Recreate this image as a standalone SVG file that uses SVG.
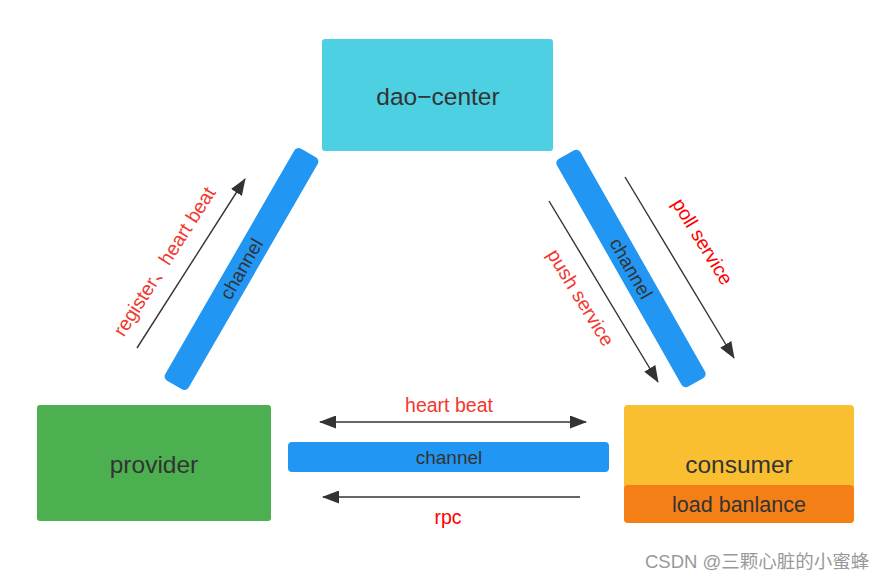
<svg xmlns="http://www.w3.org/2000/svg" width="891" height="582" viewBox="0 0 891 582">
<style>
.lbl{font-family:"Liberation Sans","Noto Sans CJK SC",sans-serif;fill:#333;text-anchor:middle}
.red{font-family:"Liberation Sans","Noto Sans CJK SC",sans-serif;fill:#F2382F;text-anchor:middle;font-size:19.5px}
.ch{fill:#2196F3}
.arr{stroke:#333;stroke-width:1.4;fill:none}
</style>
<defs>
<marker id="ah" viewBox="0 0 17 13" refX="16" refY="6.5" markerWidth="17" markerHeight="13" markerUnits="userSpaceOnUse" orient="auto-start-reverse">
<path d="M0,0 L17,6.5 L0,13 Z" fill="#333"/>
</marker>
</defs>
<rect width="891" height="582" fill="#fff"/>
<g id="dao-center">
<rect x="322" y="39" width="231" height="112" rx="3" fill="#4DD0E1"/>
<text class="lbl" x="438" y="105" font-size="24.5">dao−center</text>
</g>
<g id="provider">
<rect x="37" y="405" width="234" height="116" rx="3" fill="#4CAF50"/>
<text class="lbl" x="154" y="473" font-size="24.5">provider</text>
</g>
<g id="consumer">
<rect x="624" y="405" width="230" height="118" rx="4" fill="#F9BF30"/>
<rect x="624" y="485" width="230" height="38" rx="4" fill="#F57F17"/>
<text class="lbl" x="739" y="473" font-size="24.5">consumer</text>
<text class="lbl" x="739" y="512" font-size="21.5">load banlance</text>
</g>
<g id="connectors">
<g transform="translate(241.5,269) rotate(-60)">
<rect x="-134" y="-13.5" width="268" height="27" rx="5" class="ch"/>
<text class="lbl" x="0" y="6.5" font-size="19">channel</text>
</g>
<g transform="translate(631,268.5) rotate(60.4)">
<rect x="-131" y="-13.5" width="262" height="27" rx="5" class="ch"/>
<text class="lbl" x="0" y="6.5" font-size="19">channel</text>
</g>
<rect x="288" y="442" width="321" height="30" rx="4" class="ch"/>
<text class="lbl" x="449" y="464" font-size="19">channel</text>
<line class="arr" x1="137" y1="348" x2="245" y2="179" marker-end="url(#ah)"/>
<text class="red" transform="translate(170,265) rotate(-57.5)">register、heart beat</text>
<line class="arr" x1="549" y1="201" x2="658" y2="382" marker-end="url(#ah)"/>
<text class="red" transform="translate(575,301) rotate(58.5)">push service</text>
<line class="arr" x1="625" y1="177" x2="734" y2="358" marker-end="url(#ah)"/>
<text class="red" style="fill:#F00" transform="translate(697,245) rotate(58.5)">poll service</text>
<line class="arr" x1="320" y1="422" x2="586" y2="422" marker-start="url(#ah)" marker-end="url(#ah)"/>
<text class="red" x="449" y="412">heart beat</text>
<line class="arr" x1="580" y1="497" x2="323" y2="497" marker-end="url(#ah)"/>
<text class="red" style="fill:#F00" x="448" y="524">rpc</text>
</g>
<text x="645" y="568" font-family="Liberation Sans,Noto Sans CJK SC,sans-serif" font-size="18.5" fill="#999">CSDN @三颗心脏的小蜜蜂</text>
</svg>
